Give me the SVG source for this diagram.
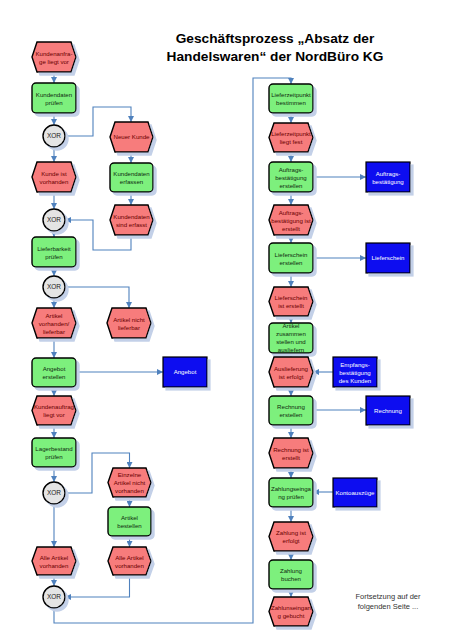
<svg xmlns="http://www.w3.org/2000/svg" width="452" height="640" viewBox="0 0 452 640">
<defs>
<filter id="sh" x="-10%" y="-10%" width="130%" height="130%">
<feOffset in="SourceAlpha" dx="3" dy="3" result="o"/>
<feFlood flood-color="#c3d0e8"/>
<feComposite in2="o" operator="in" result="s"/>
<feMerge><feMergeNode in="s"/><feMergeNode in="SourceGraphic"/></feMerge>
</filter>
<marker id="ar" markerUnits="userSpaceOnUse" markerWidth="7" markerHeight="6" refX="6" refY="3" orient="auto">
<path d="M0,0 L6,3 L0,6 Z" fill="#4f81bd"/>
</marker>
<style>
.ev{fill:#f77c7c;stroke:#000;stroke-width:1.4;filter:url(#sh)}
.fn{fill:#7df07d;stroke:#000;stroke-width:1.4;filter:url(#sh)}
.xr{fill:#e4e4e4;stroke:#000;stroke-width:1.4;filter:url(#sh)}
.dc{fill:#0a0af0;stroke:#000;stroke-width:1.2;filter:url(#sh)}
text{font-family:"Liberation Sans",Arial,sans-serif;font-size:6.1px;text-anchor:middle}
.te{fill:#6a0000}
.tf{fill:#0f2a0f}
.tx{fill:#222;font-size:6.5px}
.td{fill:#fff}
.cn path{fill:none;stroke:#4f81bd;stroke-width:1.1}
.ttl{font-size:13.7px;font-weight:bold;fill:#000}
.note{font-size:7.5px;fill:#333}
</style>
</defs>
<rect width="452" height="640" fill="#fff"/>
<g id="title">
<text class="ttl" x="275" y="43">Geschäftsprozess „Absatz der</text>
<text class="ttl" x="275" y="61">Handelswaren“ der NordBüro KG</text>
</g>
<g class="cn" id="connectors">
<path d="M54,72 V83" marker-end="url(#ar)"/>
<path d="M54,113 V125" marker-end="url(#ar)"/>
<path d="M65,136 H93 V107 H131 V122" marker-end="url(#ar)"/>
<path d="M54,147 V162" marker-end="url(#ar)"/>
<path d="M131,152 V163" marker-end="url(#ar)"/>
<path d="M131,192 V205" marker-end="url(#ar)"/>
<path d="M54,192 V209" marker-end="url(#ar)"/>
<path d="M131,235 V250 H93 V220 H65" marker-end="url(#ar)"/>
<path d="M54,231 V237" marker-end="url(#ar)"/>
<path d="M54,267 V276" marker-end="url(#ar)"/>
<path d="M54,298 V308" marker-end="url(#ar)"/>
<path d="M65,287 H129 V308" marker-end="url(#ar)"/>
<path d="M54,338 V358" marker-end="url(#ar)"/>
<path d="M76,372 H163" marker-end="url(#ar)"/>
<path d="M54,387 V396" marker-end="url(#ar)"/>
<path d="M54,425 V438" marker-end="url(#ar)"/>
<path d="M54,467 V482" marker-end="url(#ar)"/>
<path d="M65,493 H92 V453 H129.5 V468" marker-end="url(#ar)"/>
<path d="M54,504 V547" marker-end="url(#ar)"/>
<path d="M129.5,497 V507" marker-end="url(#ar)"/>
<path d="M129.5,536 V547" marker-end="url(#ar)"/>
<path d="M54,575 V586" marker-end="url(#ar)"/>
<path d="M129.5,575 V597 H65" marker-end="url(#ar)"/>
<path d="M54,608 V623 H253 V78 H291 V84" marker-end="url(#ar)"/>
<path d="M291,113 V123" marker-end="url(#ar)"/>
<path d="M291,152 V162" marker-end="url(#ar)"/>
<path d="M313,177 H366" marker-end="url(#ar)"/>
<path d="M291,192 V205" marker-end="url(#ar)"/>
<path d="M291,235 V243" marker-end="url(#ar)"/>
<path d="M313,258 H366" marker-end="url(#ar)"/>
<path d="M291,273 V287" marker-end="url(#ar)"/>
<path d="M291,316 V323" marker-end="url(#ar)"/>
<path d="M291,353 V357.5" marker-end="url(#ar)"/>
<path d="M333,372 H313" marker-end="url(#ar)"/>
<path d="M291,387 V396" marker-end="url(#ar)"/>
<path d="M313,410 H366" marker-end="url(#ar)"/>
<path d="M291,425 V438" marker-end="url(#ar)"/>
<path d="M291,468 V478" marker-end="url(#ar)"/>
<path d="M333,492 H313" marker-end="url(#ar)"/>
<path d="M291,507 V522" marker-end="url(#ar)"/>
<path d="M291,551 V560" marker-end="url(#ar)"/>
<path d="M291,589 V597" marker-end="url(#ar)"/>
</g>
<g id="e1"><path class="ev" d="M32,57 L37,42 L71,42 L76,57 L71,72 L37,72Z"/><text class="te" x="54" y="55.5">Kundenanfra-</text><text class="te" x="54" y="63.5">ge liegt vor</text></g>
<g id="f1"><rect class="fn" x="32" y="83" width="44" height="30" rx="4"/><text class="tf" x="54" y="96.5">Kundendaten</text><text class="tf" x="54" y="104.5">prüfen</text></g>
<g id="x1"><circle class="xr" cx="54" cy="136" r="11"/><text class="tx" x="54" y="138.3">XOR</text></g>
<g id="e2"><path class="ev" d="M110,137 L115,122 L148,122 L153,137 L148,152 L115,152Z"/><text class="te" x="131.5" y="139.2">Neuer Kunde</text></g>
<g id="e3"><path class="ev" d="M32,177 L37,162 L71,162 L76,177 L71,192 L37,192Z"/><text class="te" x="54" y="175.5">Kunde ist</text><text class="te" x="54" y="183.5">vorhanden</text></g>
<g id="f2"><rect class="fn" x="110" y="163" width="43" height="29" rx="4"/><text class="tf" x="131.5" y="176">Kundendaten</text><text class="tf" x="131.5" y="184">erfassen</text></g>
<g id="e4"><path class="ev" d="M110,220 L115,205 L148,205 L153,220 L148,235 L115,235Z"/><text class="te" x="131.5" y="218.5">Kundendaten</text><text class="te" x="131.5" y="226.5">sind erfasst</text></g>
<g id="x2"><circle class="xr" cx="54" cy="220" r="11"/><text class="tx" x="54" y="222.3">XOR</text></g>
<g id="f3"><rect class="fn" x="32" y="237" width="44" height="30" rx="4"/><text class="tf" x="54" y="250.5">Lieferbarkeit</text><text class="tf" x="54" y="258.5">prüfen</text></g>
<g id="x3"><circle class="xr" cx="54" cy="287" r="11"/><text class="tx" x="54" y="289.3">XOR</text></g>
<g id="e5"><path class="ev" d="M32,323 L37,308 L71,308 L76,323 L71,338 L37,338Z"/><text class="te" x="54" y="317.5">Artikel</text><text class="te" x="54" y="325.5">vorhanden/</text><text class="te" x="54" y="333.5">lieferbar</text></g>
<g id="e6"><path class="ev" d="M107,323 L112,308 L146,308 L151,323 L146,338 L112,338Z"/><text class="te" x="129" y="321.5">Artikel nicht</text><text class="te" x="129" y="329.5">lieferbar</text></g>
<g id="f4"><rect class="fn" x="32" y="358" width="44" height="29" rx="4"/><text class="tf" x="54" y="371">Angebot</text><text class="tf" x="54" y="379">erstellen</text></g>
<g id="d1"><rect class="dc" x="163" y="357" width="44" height="30"/><text class="td" x="185" y="374.2">Angebot</text></g>
<g id="e7"><path class="ev" d="M32,410.5 L37,396 L71,396 L76,410.5 L71,425 L37,425Z"/><text class="te" x="54" y="409">Kundenauftrag</text><text class="te" x="54" y="417">liegt vor</text></g>
<g id="f5"><rect class="fn" x="32" y="438" width="44" height="29" rx="4"/><text class="tf" x="54" y="451">Lagerbestand</text><text class="tf" x="54" y="459">prüfen</text></g>
<g id="x4"><circle class="xr" cx="54" cy="493" r="11"/><text class="tx" x="54" y="495.3">XOR</text></g>
<g id="e8"><path class="ev" d="M108,482.5 L113,468 L146,468 L151,482.5 L146,497 L113,497Z"/><text class="te" x="129.5" y="477">Einzelne</text><text class="te" x="129.5" y="485">Artikel nicht</text><text class="te" x="129.5" y="493">vorhanden</text></g>
<g id="f6"><rect class="fn" x="108" y="507" width="43" height="29" rx="4"/><text class="tf" x="129.5" y="520">Artikel</text><text class="tf" x="129.5" y="528">bestellen</text></g>
<g id="e9"><path class="ev" d="M108,561 L113,547 L146,547 L151,561 L146,575 L113,575Z"/><text class="te" x="129.5" y="559.5">Alle Artikel</text><text class="te" x="129.5" y="567.5">vorhanden</text></g>
<g id="e10"><path class="ev" d="M32,561 L37,547 L71,547 L76,561 L71,575 L37,575Z"/><text class="te" x="54" y="559.5">Alle Artikel</text><text class="te" x="54" y="567.5">vorhanden</text></g>
<g id="x5"><circle class="xr" cx="54" cy="597" r="11"/><text class="tx" x="54" y="599.3">XOR</text></g>
<g id="f7"><rect class="fn" x="269" y="84" width="44" height="29" rx="4"/><text class="tf" x="291" y="97">Lieferzeitpunkt</text><text class="tf" x="291" y="105">bestimmen</text></g>
<g id="e11"><path class="ev" d="M269,137.5 L274,123 L308,123 L313,137.5 L308,152 L274,152Z"/><text class="te" x="291" y="136">Lieferzeitpunkt</text><text class="te" x="291" y="144">liegt fest</text></g>
<g id="f8"><rect class="fn" x="269" y="162" width="44" height="30" rx="4"/><text class="tf" x="291" y="171.5">Auftrags-</text><text class="tf" x="291" y="179.5">bestätigung</text><text class="tf" x="291" y="187.5">erstellen</text></g>
<g id="d2"><rect class="dc" x="366" y="162" width="44" height="30"/><text class="td" x="388" y="175.5">Auftrags-</text><text class="td" x="388" y="183.5">bestätigung</text></g>
<g id="e12"><path class="ev" d="M269,220 L274,205 L308,205 L313,220 L308,235 L274,235Z"/><text class="te" x="291" y="214.5">Auftrags-</text><text class="te" x="291" y="222.5">bestätigung ist</text><text class="te" x="291" y="230.5">erstellt</text></g>
<g id="f9"><rect class="fn" x="269" y="243" width="44" height="30" rx="4"/><text class="tf" x="291" y="256.5">Lieferschein</text><text class="tf" x="291" y="264.5">erstellen</text></g>
<g id="d3"><rect class="dc" x="366" y="243" width="44" height="30"/><text class="td" x="388" y="260.2">Lieferschein</text></g>
<g id="e13"><path class="ev" d="M269,301.5 L274,287 L308,287 L313,301.5 L308,316 L274,316Z"/><text class="te" x="291" y="300">Lieferschein</text><text class="te" x="291" y="308">ist erstellt</text></g>
<g id="f10"><rect class="fn" x="269" y="323" width="44" height="30" rx="4"/><text class="tf" x="291" y="328">Artikel</text><text class="tf" x="291" y="336">zusammen</text><text class="tf" x="291" y="344">stellen und</text><text class="tf" x="291" y="352">ausliefern</text></g>
<g id="e14"><path class="ev" d="M269,372 L274,357 L308,357 L313,372 L308,387 L274,387Z"/><text class="te" x="291" y="370.5">Auslieferung</text><text class="te" x="291" y="378.5">ist erfolgt</text></g>
<g id="d4"><rect class="dc" x="333" y="357" width="44" height="30"/><text class="td" x="355" y="366.5">Empfangs-</text><text class="td" x="355" y="374.5">bestätigung</text><text class="td" x="355" y="382.5">des Kunden</text></g>
<g id="f11"><rect class="fn" x="269" y="396" width="44" height="29" rx="4"/><text class="tf" x="291" y="409">Rechnung</text><text class="tf" x="291" y="417">erstellen</text></g>
<g id="d5"><rect class="dc" x="366" y="396" width="44" height="29"/><text class="td" x="388" y="412.7">Rechnung</text></g>
<g id="e15"><path class="ev" d="M269,453 L274,438 L308,438 L313,453 L308,468 L274,468Z"/><text class="te" x="291" y="451.5">Rechnung ist</text><text class="te" x="291" y="459.5">erstellt</text></g>
<g id="f12"><rect class="fn" x="269" y="478" width="44" height="29" rx="4"/><text class="tf" x="291" y="491">Zahlungseinga</text><text class="tf" x="291" y="499">ng prüfen</text></g>
<g id="d6"><rect class="dc" x="333" y="478" width="44" height="29"/><text class="td" x="355" y="494.7">Kontoauszüge</text></g>
<g id="e16"><path class="ev" d="M269,536.5 L274,522 L308,522 L313,536.5 L308,551 L274,551Z"/><text class="te" x="291" y="535">Zahlung ist</text><text class="te" x="291" y="543">erfolgt</text></g>
<g id="f13"><rect class="fn" x="269" y="560" width="44" height="29" rx="4"/><text class="tf" x="291" y="573">Zahlung</text><text class="tf" x="291" y="581">buchen</text></g>
<g id="e17"><path class="ev" d="M269,611.5 L274,597 L308,597 L313,611.5 L308,626 L274,626Z"/><text class="te" x="291" y="610">Zahlunseingan</text><text class="te" x="291" y="618">g gebucht</text></g>
<g id="note">
<text class="note" x="388" y="599">Fortsetzung auf der</text>
<text class="note" x="388" y="609">folgenden Seite ...</text>
</g>
</svg>
